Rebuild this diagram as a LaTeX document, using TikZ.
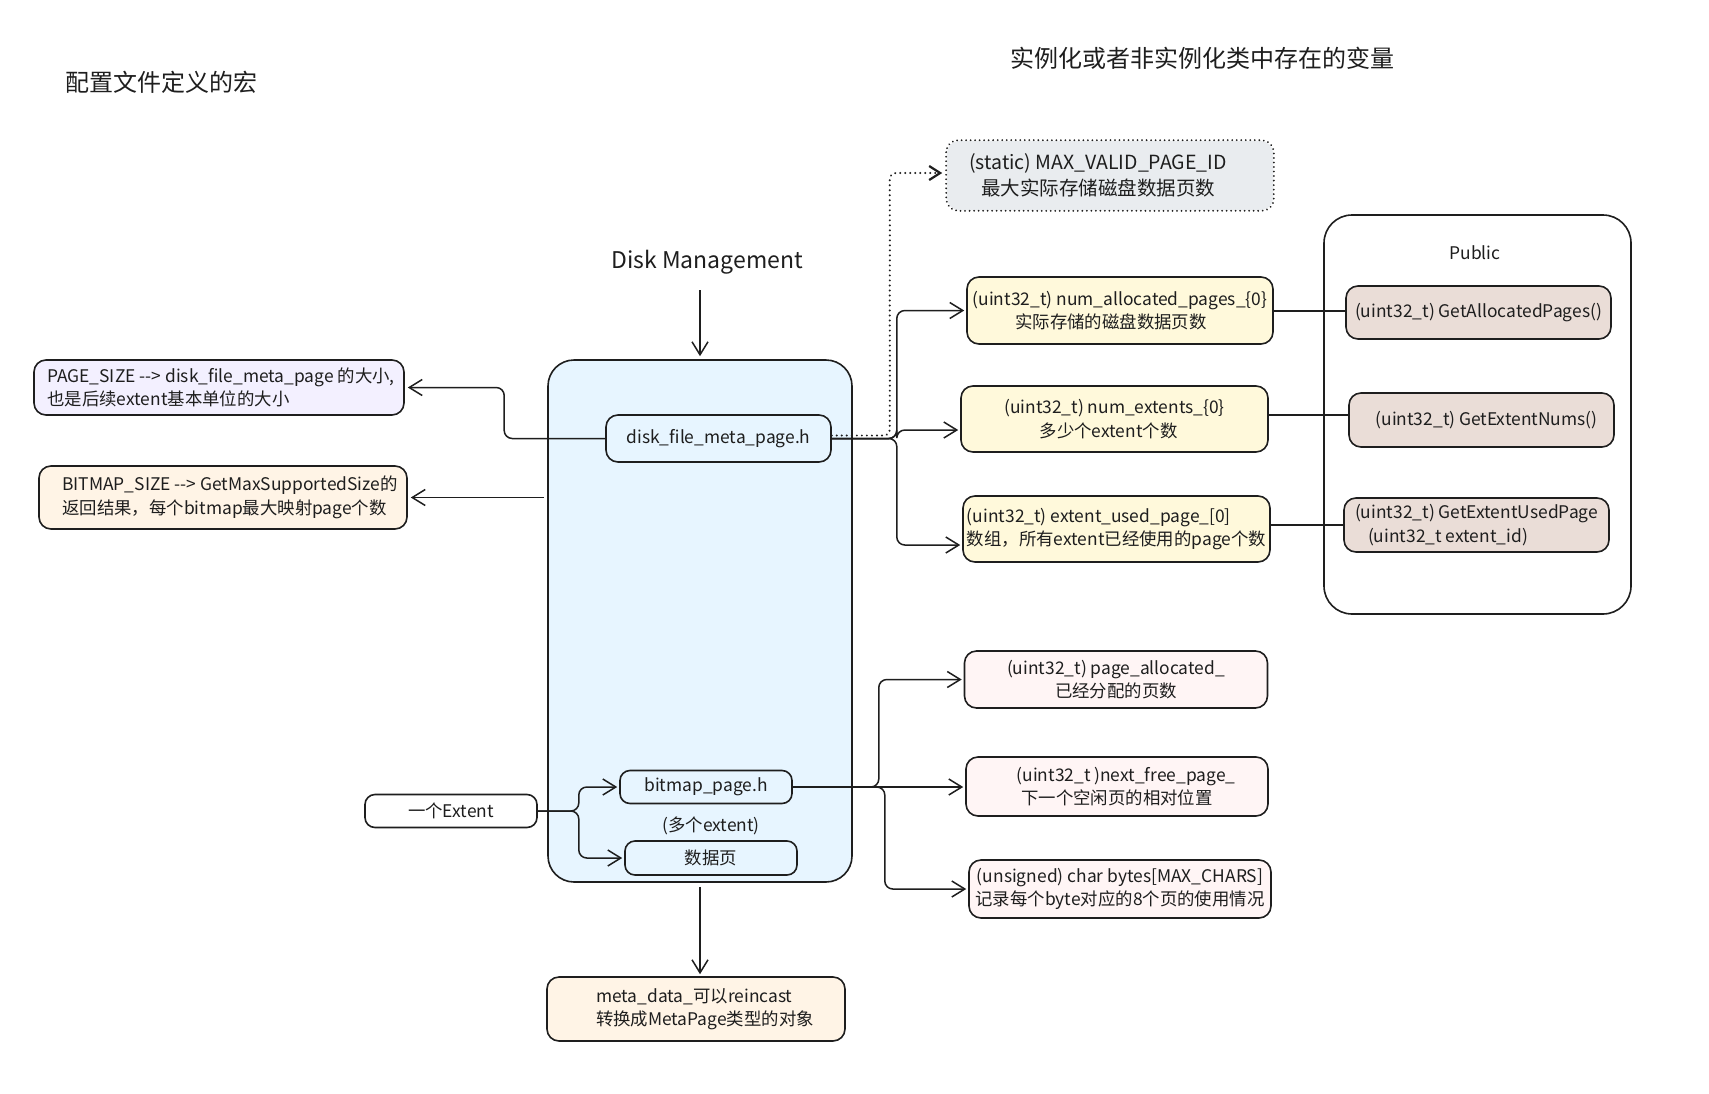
\documentclass[tikz,border=0pt]{standalone}
\usepackage{fontspec}
\setmainfont{Noto Sans CJK SC}
\usetikzlibrary{arrows.meta}
\definecolor{ink}{HTML}{1E1E1E}
\definecolor{bluef}{HTML}{E7F5FF}
\definecolor{lavf}{HTML}{F3F0FF}
\definecolor{orgf}{HTML}{FFF4E6}
\definecolor{grayf}{HTML}{E9ECEF}
\definecolor{yelf}{HTML}{FFF9DB}
\definecolor{brnf}{HTML}{EADDD7}
\definecolor{pinkf}{HTML}{FFF5F5}
\newcommand{\bodyfont}{\fontsize{17.4}{23.5}\selectfont}
\newcommand{\titlefont}{\fontsize{24}{28}\selectfont}
\begin{document}
\begin{tikzpicture}[x=1pt,y=-1pt,
  bx/.style={draw=ink, line width=1.6pt, rounded corners=12pt, inner sep=0pt, align=center, font=\bodyfont, text=ink},
  arr/.style={draw=ink, line width=1.5pt, rounded corners=8pt, -{Straight Barb[length=13pt,width=16pt]}},
  dotarr/.style={draw=ink, line width=2.2pt, line cap=round, dash pattern=on 0.01pt off 5pt, rounded corners=6pt, -{Straight Barb[length=11pt,width=14pt]}},
  conn/.style={draw=ink, line width=2pt},
  lbl/.style={inner sep=0pt, font=\bodyfont, text=ink}]
\useasboundingbox[fill=white] (0,0) rectangle (1709,1093);

% titles
\node[lbl, font=\titlefont, anchor=west] (t1) at (65,82) {配置文件定义的宏};
\node[lbl, font=\titlefont] (t2) at (1202,58) {实例化或者非实例化类中存在的变量};
\node[lbl, font=\fontsize{23}{27}\selectfont] (dml) at (707,262) {Disk Management};

% main box
\node[bx, fill=bluef, rounded corners=26pt, minimum width=304pt, minimum height=522pt] (dm) at (700,621) {};
\node[bx, fill=bluef, minimum width=225pt, minimum height=47pt] (dfm) at (718.5,438.5) {disk\_file\_meta\_page.h};
\node[bx, fill=bluef, rounded corners=10pt, minimum width=172pt, minimum height=33pt] (bmp) at (706,787) {bitmap\_page.h};
\node[lbl] (multi) at (711,826) {(多个extent)};
\node[bx, fill=bluef, rounded corners=10pt, minimum width=172pt, minimum height=34pt] (dp) at (711,858) {数据页};
\node[bx, fill=white, rounded corners=10pt, minimum width=172pt, minimum height=33pt] (ext) at (451,811) {一个Extent};
\node[bx, fill=orgf, align=left, minimum width=298pt, minimum height=64pt] (meta) at (696,1009) {\hspace*{18pt}meta\_data\_可以reincast\\\hspace*{18pt}转换成MetaPage类型的对象};

% left macros
\node[bx, fill=lavf, align=left, minimum width=370pt, minimum height=55pt] (ps) at (219,387.5) {\hspace*{4pt}PAGE\_SIZE -{}-{}> disk\_file\_meta\_page 的大小,\\\hspace*{4pt}也是后续extent基本单位的大小};
\node[bx, fill=orgf, align=left, minimum width=368pt, minimum height=63pt] (bm) at (223,497.5) {\hspace*{14pt}BITMAP\_SIZE -{}-{}> GetMaxSupportedSize的\\\hspace*{14pt}返回结果，每个bitmap最大映射page个数};

% static
\node[bx, fill=grayf, draw=none, font=\fontsize{19.5}{26}\selectfont, minimum width=326pt, minimum height=69pt] (maxv) at (1110,175.5) {(static) MAX\_VALID\_PAGE\_ID\hspace*{24pt}\\最大实际存储磁盘数据页数\hspace*{24pt}};
\draw[ink, line width=2pt, line cap=round, dash pattern=on 0.01pt off 4.5pt, rounded corners=12pt] (maxv.north west) rectangle (maxv.south east);

% yellow members
\node[bx, fill=yelf, minimum width=306pt, minimum height=67pt] (y1) at (1120,310.5) {(uint32\_t) num\_allocated\_pages\_\{0\}\\实际存储的磁盘数据页数\hspace*{18pt}};
\node[bx, fill=yelf, minimum width=307pt, minimum height=66pt] (y2) at (1114.5,419) {(uint32\_t) num\_extents\_\{0\}\\多少个extent个数\hspace*{12pt}};
\node[bx, fill=yelf, align=left, minimum width=307pt, minimum height=66pt] (y3) at (1116.5,529) {(uint32\_t) extent\_used\_page\_[0]\\数组，所有extent已经使用的page个数};

% public
\node[bx, fill=white, rounded corners=28pt, minimum width=307pt, minimum height=399pt] (pub) at (1477.5,414.5) {};
\node[lbl] (publ) at (1475,253) {Public};
\node[bx, fill=brnf, minimum width=265pt, minimum height=53pt] (m1) at (1478.5,312.5) {(uint32\_t) GetAllocatedPages()};
\node[bx, fill=brnf, minimum width=265pt, minimum height=54pt] (m2) at (1481.5,420) {\hspace*{10pt}(uint32\_t) GetExtentNums()};
\node[bx, fill=brnf, align=left, minimum width=265pt, minimum height=54pt] (m3) at (1476.5,525) {(uint32\_t) GetExtentUsedPage\\\hspace*{13pt}(uint32\_t extent\_id)};

% pink members
\node[bx, fill=pinkf, minimum width=303pt, minimum height=57pt] (p1) at (1116,679.5) {(uint32\_t) page\_allocated\_\\已经分配的页数};
\node[bx, fill=pinkf, minimum width=302pt, minimum height=59pt] (p2) at (1117,786.5) {\hspace*{18pt}(uint32\_t )next\_free\_page\_\\下一个空闲页的相对位置};
\node[bx, fill=pinkf, minimum width=302pt, minimum height=58pt] (p3) at (1120,889) {(unsigned) char bytes[MAX\_CHARS]\\记录每个byte对应的8个页的使用情况};

% connectors
\draw[arr, shorten <=16pt, shorten >=3pt] (dml.south -| dm.north) -- (dm.north);
\draw[arr, shorten >=3pt] (dfm.west) -- ++(-101,0) |- (ps.east);
\draw[arr, shorten >=3pt] ([xshift=-3pt]dm.west |- bm.east) -- (bm.east);
\draw[dotarr, shorten >=4pt] ([yshift=3pt]dfm.east) -- ++(58,0) |- ([yshift=2.5pt]maxv.west);
\draw[arr, shorten >=2pt] (dfm.east) -- ++(65,0) |- (y1.west);
\draw[arr, shorten >=2pt] (dfm.east) -- ++(65,0) |- ([yshift=-11pt]y2.west);
\draw[arr, shorten >=2pt] (dfm.east) -- ++(65,0) |- ([yshift=-16pt]y3.west);
\draw[conn] (y1.east) -- (y1.east -| m1.west);
\draw[conn] ([yshift=4pt]y2.east) -- ([yshift=4pt]y2.east -| m2.west);
\draw[conn] ([yshift=4pt]y3.east) -- ([yshift=4pt]y3.east -| m3.west);
\draw[arr, shorten >=2pt] (bmp.east) -- ++(86,0) |- (p1.west);
\draw[arr, shorten >=2pt] (bmp.east) -- (bmp.east -| p2.west);
\draw[arr, shorten >=2pt] (bmp.east) -- ++(92,0) |- (p3.west);
\draw[arr, shorten >=2pt] (ext.east) -- ++(41,0) |- (bmp.west);
\draw[arr, shorten >=2pt] (ext.east) -- ++(41,0) |- (dp.west);
\draw[arr, shorten <=4pt, shorten >=2pt] (dm.south) -- (dm.south |- meta.north);
\end{tikzpicture}
\end{document}
